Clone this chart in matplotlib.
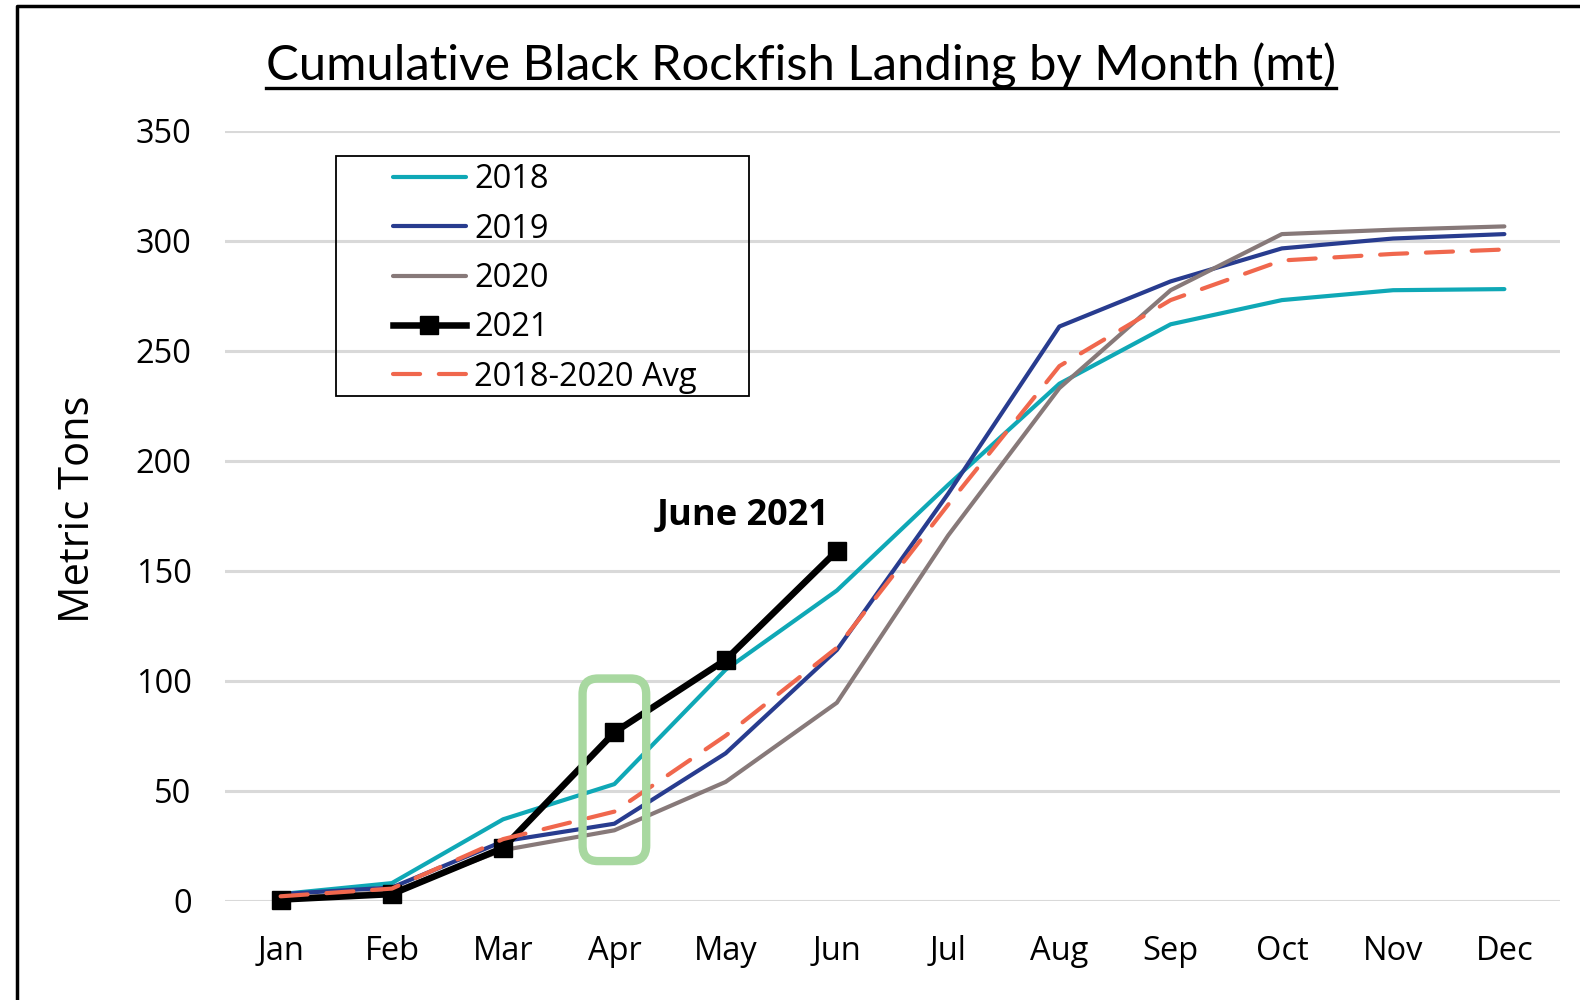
import matplotlib
matplotlib.use('Agg')
import matplotlib.pyplot as plt
from matplotlib.patches import FancyBboxPatch, Rectangle
from matplotlib.lines import Line2D

months = ['Jan', 'Feb', 'Mar', 'Apr', 'May', 'Jun', 'Jul', 'Aug', 'Sep', 'Oct', 'Nov', 'Dec']
y2018 = [3, 8, 37, 53, 105, 141, 189, 235, 262, 273, 277.5, 278]
y2019 = [3, 6, 27, 35, 67, 114, 185, 261, 281.5, 296.5, 301, 303]
y2020 = [1, 4, 23, 32, 54, 90, 166, 233, 277.5, 303, 305, 306.5]
y2021 = [0.5, 3, 24, 76.5, 109.5, 159]
yavg = [2, 5.5, 28, 40.5, 75, 115, 180, 243, 273, 291, 294, 296]

series_labels = ['2018', '2019', '2020', '2021', '2018-2020 Avg']
yticks = [0, 50, 100, 150, 200, 250, 300, 350]

x = list(range(len(months)))

fig = plt.figure(figsize=(15.8, 10), dpi=100)
ax = fig.add_axes([225 / 1580, 1 - 900.7 / 1000, 1335 / 1580, 770 / 1000])

ax.yaxis.grid(True, color='#d9d9d9', lw=2.2, zorder=0)
ax.set_axisbelow(True)

ax.plot(x, y2018, color='#0fa8b6', lw=3, label=series_labels[0], solid_capstyle='round', zorder=3)
ax.plot(x, y2019, color='#283c8f', lw=3, label=series_labels[1], solid_capstyle='round', zorder=3)
ax.plot(x, y2020, color='#877979', lw=3, label=series_labels[2], solid_capstyle='round', zorder=3)
ax.plot(x[:len(y2021)], y2021, color='black', lw=4.7, marker='s', markersize=13,
        label=series_labels[3], zorder=4, clip_on=False)
ax.plot(x, yavg, color='#f0674d', lw=3, ls=(0, (6.5, 4.5)), dash_capstyle='round',
        label=series_labels[4], zorder=5, clip_on=False)

ax.set_xlim(-0.5, 11.5)
ax.set_ylim(0, 350)
ax.set_xticks(x)
ax.set_xticklabels(months)
ax.set_yticks(yticks)
ax.tick_params(length=0, labelsize=23.5, colors='black')
ax.tick_params(axis='x', pad=25)
ax.tick_params(axis='y', pad=24)
for lab in ax.get_xticklabels() + ax.get_yticklabels():
    lab.set_fontfamily('Open Sans')
for s in ax.spines.values():
    s.set_visible(False)

fig.text(77.6 / 1580, 1 - 509 / 1000, 'Metric Tons', fontsize=30, family='Open Sans',
         rotation=90, ha='center', va='center')

# green highlight around April
box = FancyBboxPatch((2.714, 18), 0.572, 83,
                     boxstyle='round,pad=0,rounding_size=0.14',
                     mutation_aspect=50.6, fill=False, ec='#a8d8a0', lw=6, zorder=6)
ax.add_patch(box)

ax.text(4.154, 170.8, 'June 2021', fontsize=26, fontweight='bold', family='Open Sans',
        ha='center', va='baseline')

# legend with a hand-drawn frame
ax.add_patch(Rectangle((0.0828, 0.6555), 0.3095, 0.3114, transform=ax.transAxes,
                       fill=False, ec='black', lw=1.3, zorder=7))
leg = ax.legend(loc='upper left', bbox_to_anchor=(0.1258, 0.9575), frameon=False,
                prop={'family': 'Open Sans', 'size': 23.5}, handlelength=2.23,
                handletextpad=0.25, labelspacing=0.5, borderpad=0, borderaxespad=0)
leg.set_zorder(8)

title = fig.text(0.5067, 1 - 80.6 / 1000, 'Cumulative Black Rockfish Landing by Month (mt)',
                 fontsize=35.3, family='Lato', ha='center', va='baseline')
fig.canvas.draw()
bb = title.get_window_extent().transformed(fig.transFigure.inverted())
fig.add_artist(Line2D([bb.x0, bb.x1], [1 - 87.7 / 1000] * 2, color='black', lw=2.4,
                      transform=fig.transFigure))

# outer frame (left and top edges)
fig.add_artist(Line2D([17 / 1580, 17 / 1580, 1], [0, 1 - 6 / 1000, 1 - 6 / 1000],
                      color='black', lw=2.5, transform=fig.transFigure))

fig.savefig('out.png', dpi=100)
